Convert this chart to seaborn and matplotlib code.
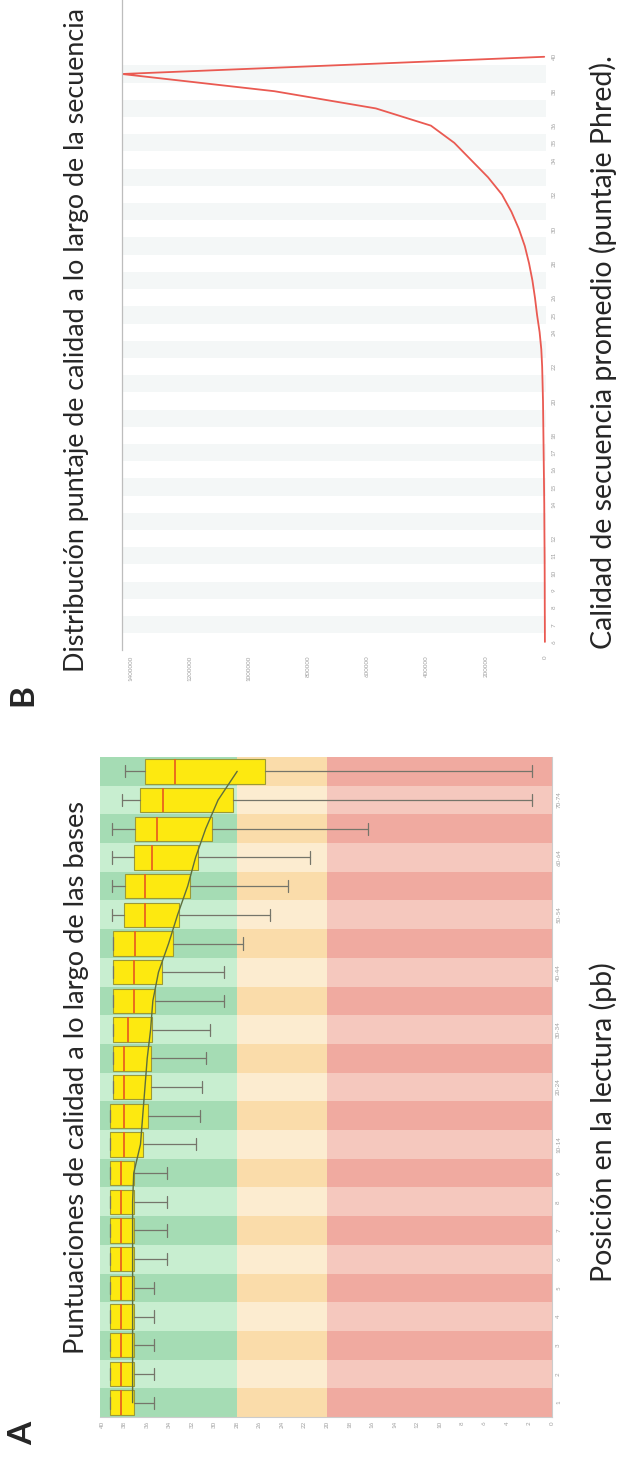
import numpy as np
import matplotlib
matplotlib.use("Agg")
import matplotlib.pyplot as plt
import seaborn as sns

# panel A: calidad por posicion (percentiles tipo FastQC)
posiciones = ["1", "2", "3", "4", "5", "6", "7", "8", "9", "10-14", "15-19",
              "20-24", "25-29", "30-34", "35-39", "40-44", "45-49", "50-54",
              "55-59", "60-64", "65-69", "70-74", "75-76"]
p10 = [35.4, 35.4, 35.4, 35.4, 35.4, 34.2, 34.2, 34.2, 34.2, 31.7, 31.3,
       31.1, 30.8, 30.4, 29.2, 29.2, 27.5, 25.1, 23.5, 21.5, 16.4, 1.8, 1.8]
q1 = [37.2, 37.2, 37.2, 37.2, 37.2, 37.2, 37.2, 37.2, 37.2, 36.4, 35.9,
      35.7, 35.7, 35.6, 35.3, 34.7, 33.7, 33.2, 32.2, 31.5, 30.2, 28.4, 25.5]
mediana = [38.3, 38.3, 38.3, 38.3, 38.3, 38.3, 38.3, 38.3, 38.3, 38.1, 38.1,
           38.1, 38.1, 37.7, 37.2, 37.2, 37.1, 36.2, 36.2, 35.6, 35.1, 34.6, 33.5]
q3 = [39.3, 39.3, 39.3, 39.3, 39.3, 39.3, 39.3, 39.3, 39.3, 39.3, 39.3,
      39.0, 39.0, 39.0, 39.0, 39.0, 39.0, 38.1, 38.0, 37.2, 37.1, 36.6, 36.2]
p90 = [39.3, 39.3, 39.3, 39.3, 39.3, 39.3, 39.3, 39.3, 39.3, 39.3, 39.3,
       39.0, 39.0, 39.0, 39.0, 39.0, 39.0, 39.1, 39.1, 39.1, 39.1, 38.2, 38.0]
media = [37.3, 37.3, 37.3, 37.3, 37.3, 37.3, 37.3, 37.3, 37.2, 36.6, 36.4,
         36.2, 36.0, 35.7, 35.5, 35.0, 34.1, 33.3, 32.4, 31.7, 30.8, 29.7, 28.0]
etiquetas_pos = ["1", "2", "3", "4", "5", "6", "7", "8", "9", "10-14", "",
                 "20-24", "", "30-34", "", "40-44", "", "50-54", "", "60-64",
                 "", "70-74", ""]

# panel B: distribucion de calidad promedio por secuencia
calidad_b = list(range(6, 41))
conteo_b = [700, 860, 1140, 1290, 1430, 1720, 2150, 2570, 2860, 3580, 4290,
            5000, 5720, 6440, 7150, 8580, 10000, 12900, 18600, 27200, 34300,
            42900, 54300, 68600, 88700, 114000, 146000, 193000, 250000,
            307000, 386000, 572000, 915000, 1430000, 3000]
ticks_calidad_b = [6, 7, 8, 9, 10, 11, 12, 14, 15, 16, 17, 18, 20, 22, 24,
                   25, 26, 28, 30, 32, 34, 35, 36, 38, 40]
ticks_conteo_b = [0, 200000, 400000, 600000, 800000, 1000000, 1200000, 1400000]

sns.set_style("white")
plt.rcParams["font.family"] = ["Lato", "DejaVu Sans"]

W, H = 618, 1458
fig = plt.figure(figsize=(W / 100, H / 100), dpi=100)
axA = fig.add_axes([100 / W, 1 - 1417 / H, 452 / W, 660 / H])
axB = fig.add_axes([122 / W, 1 - 650 / H, 424 / W, 650 / H])

gris = "#a0a0a0"

# ---- panel A ----
idx = np.arange(len(posiciones))
zonas = [(28, 40.2, "#a5dcb4", "#c8eed0"),
         (20, 28, "#fadcaa", "#fcecd0"),
         (0, 20, "#f0aaa0", "#f5c8be")]
for lo, hi, oscuro, claro in zonas:
    axA.barh(idx, hi - lo, left=lo, height=1.0, linewidth=0,
             color=[oscuro if i % 2 == 0 else claro for i in idx])

stats = [dict(whislo=a, q1=b, med=c, q3=d, whishi=e, label=l)
         for a, b, c, d, e, l in zip(p10, q1, mediana, q3, p90, posiciones)]
axA.bxp(stats, positions=idx, widths=0.85, orientation="horizontal",
        showfliers=False, patch_artist=True, manage_ticks=False,
        boxprops=dict(facecolor="#fde910", edgecolor="#9c9a36", linewidth=0.8),
        medianprops=dict(color="#e8641e", linewidth=1.3),
        whiskerprops=dict(color="#75756a", linewidth=0.9),
        capprops=dict(color="#75756a", linewidth=0.9))
sns.lineplot(x=media, y=idx, sort=False, estimator=None, color="#5e6e3e",
             linewidth=1.0, ax=axA)

axA.set_xlim(40.2, 0)
axA.set_ylim(-0.5, len(posiciones) - 0.5)
axA.set_xticks(range(0, 41, 2))
axA.set_xticklabels([str(v) for v in range(0, 41, 2)], rotation=90,
                    fontsize=4.5, color=gris)
axA.yaxis.tick_right()
axA.set_yticks(idx)
axA.set_yticklabels(etiquetas_pos, rotation=90, va="center", fontsize=4.5,
                    color=gris)
axA.tick_params(length=0, pad=3)
axA.set_xlabel("")
axA.set_ylabel("")
for lado in ["top", "left"]:
    axA.spines[lado].set_visible(False)
for lado in ["right", "bottom"]:
    axA.spines[lado].set_color("#cccccc")
    axA.spines[lado].set_linewidth(0.8)

# ---- panel B ----
for q in calidad_b:
    if q % 2 == 1:
        axB.axhspan(q - 0.5, q + 0.5, color="#f4f7f7", lw=0, zorder=0)
sns.lineplot(x=conteo_b, y=calidad_b, sort=False, estimator=None,
             color="#ea5a52", linewidth=1.3, ax=axB)
axB.set_xlim(1430000, -3000)
axB.set_ylim(5.53, 43.3)
axB.set_xticks(ticks_conteo_b)
axB.set_xticklabels([str(v) for v in ticks_conteo_b], rotation=90,
                    fontsize=4.5, color=gris)
axB.yaxis.tick_right()
axB.set_yticks(ticks_calidad_b)
axB.set_yticklabels([str(v) for v in ticks_calidad_b], rotation=90,
                    va="center", fontsize=4.5, color=gris)
axB.tick_params(length=0, pad=4)
axB.set_xlabel("")
axB.set_ylabel("")
for lado in ["top", "right", "bottom"]:
    axB.spines[lado].set_visible(False)
axB.spines["left"].set_color("#bdbdbd")
axB.spines["left"].set_linewidth(0.9)

# ---- textos ----
fig.text(77 / W, 1 - 1077 / H, "Puntuaciones de calidad a lo largo de las bases",
         rotation=90, ha="center", va="center", fontsize=19.6)
fig.text(603 / W, 1 - 1122 / H, "Posición en la lectura (pb)",
         rotation=90, ha="center", va="center", fontsize=20.5)
fig.text(77 / W, 1 - 340 / H,
         "Distribución puntaje de calidad a lo largo de la secuencia",
         rotation=90, ha="center", va="center", fontsize=19.4)
fig.text(603 / W, 1 - 352 / H, "Calidad de secuencia promedio (puntaje Phred).",
         rotation=90, ha="center", va="center", fontsize=20.5)
fig.text(23 / W, 1 - 1433 / H, "A", rotation=90, ha="center", va="center",
         fontsize=24, fontweight="bold")
fig.text(23 / W, 1 - 695 / H, "B", rotation=90, ha="center", va="center",
         fontsize=24, fontweight="bold")

fig.savefig("out.png", dpi=100)
